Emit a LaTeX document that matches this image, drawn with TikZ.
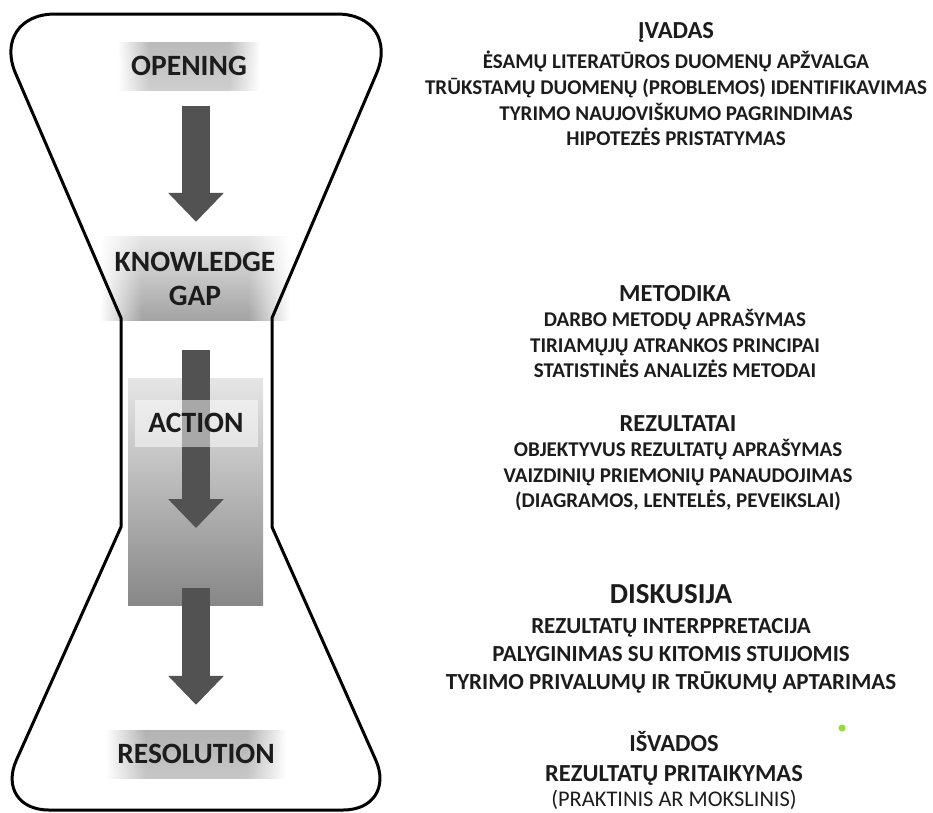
\documentclass[tikz,border=0pt]{standalone}
\usepackage{fontspec}
\setmainfont{Carlito}
\usetikzlibrary{positioning}
\usetikzlibrary{arrows.meta}
\usetikzlibrary{fadings}

\definecolor{arrowgray}{RGB}{82,82,82}
\definecolor{inkgray}{RGB}{28,28,28}
\definecolor{dotgreen}{RGB}{140,226,40}

\pgfdeclarehorizontalshading{sidefade}{100bp}{color(0bp)=(pgftransparent!100); color(25bp)=(pgftransparent!100); color(36bp)=(pgftransparent!0); color(64bp)=(pgftransparent!0); color(75bp)=(pgftransparent!100); color(100bp)=(pgftransparent!100)}
\tikzfading[name=fade sides, shading=sidefade]

\tikzset{
  flask/.style={draw=black, line width=3pt, line join=round},
  labelbox/.style={inner sep=0, text=inkgray, font=\fontsize{29.5}{34}\selectfont\bfseries, path fading=fade sides},
  bigarrow/.style={draw=arrowgray, line width=28pt, -{Triangle[width=54pt,length=29pt]}},
  head/.style={inner sep=0, anchor=base, text=inkgray, font=\fontsize{24.5}{28}\selectfont\bfseries, text height=16pt, text depth=7.3pt},
  sub/.style={inner sep=0, text=inkgray, font=\fontsize{21}{24}\selectfont\bfseries, text height=17.3pt, text depth=8pt},
  bighead/.style={inner sep=0, anchor=base, text=inkgray, font=\fontsize{29}{32}\selectfont\bfseries, text height=19pt, text depth=10.5pt},
  bigsub/.style={inner sep=0, text=inkgray, font=\fontsize{23}{26}\selectfont\bfseries, text height=19.5pt, text depth=8pt},
  note/.style={inner sep=0, text=inkgray, font=\fontsize{22.4}{26}\selectfont, text height=17pt, text depth=6pt}
}

\begin{document}
\begin{tikzpicture}[x=1pt, y=-1pt]
  \useasboundingbox (0,0) rectangle (933,812);

  % left column
  \node[labelbox, shade, top color=black!27, bottom color=black!19, minimum width=142, minimum height=48] (opening) at (189,66) {OPENING};
  \node[labelbox, shade, top color=black!10, bottom color=black!36, minimum width=190, minimum height=83, align=center] (gap) at (195,278.5) {KNOWLEDGE\\GAP};
  \shade[top color=black!10, bottom color=black!47] (128,378) rectangle (263,605);
  \coordinate (actiontop) at (196,378);
  \coordinate (actionbottom) at (196,605);
  \node[labelbox, shade, top color=black!30, bottom color=black!22, minimum width=180, minimum height=48] (resolution) at (196,754) {RESOLUTION};

  % flask outline
  \draw[flask] (55,14) -- (337,14) .. controls (372.8,14) and (390.5,40.9) .. (376.4,73.8)
    -- (272,318) -- (272,527) -- (375.6,759.7) .. controls (387.9,787.4) and (373.3,810) .. (343,810)
    -- (49,810) .. controls (18.8,810) and (4.1,787.4) .. (16.5,759.8)
    -- (121,527) -- (121,318) -- (15.7,73.7) .. controls (1.6,40.9) and (19.3,14) .. (55,14) -- cycle;

  \draw[bigarrow] ([yshift=-16pt]opening.south -| actiontop) -- ([yshift=15pt]gap.north -| actiontop);
  \draw[bigarrow] ([yshift=-30pt]gap.south -| actiontop) -- ([yshift=-150pt]actiontop);
  \draw[bigarrow] ([yshift=17pt]actionbottom) -- ([yshift=25pt]resolution.north);

  \node[labelbox, path fading=none, fill=white, fill opacity=0.5, text opacity=1, minimum width=123, minimum height=47] (action) at (196,423) {ACTION};

  % right column
  \node[head] (ivadas) at (676,38) {ĮVADAS};
  \node[sub, below=5.7pt of ivadas] (ivadas1) {ĖSAMŲ LITERATŪROS DUOMENŲ APŽVALGA};
  \node[sub, below=0pt of ivadas1] (ivadas2) {TRŪKSTAMŲ DUOMENŲ (PROBLEMOS) IDENTIFIKAVIMAS};
  \node[sub, below=0pt of ivadas2] (ivadas3) {TYRIMO NAUJOVIŠKUMO PAGRINDIMAS};
  \node[sub, below=0pt of ivadas3] (ivadas4) {HIPOTEZĖS PRISTATYMAS};

  \node[head] (metodika) at (675,301.5) {METODIKA};
  \node[sub, below=0pt of metodika] (metodika1) {DARBO METODŲ APRAŠYMAS};
  \node[sub, below=0pt of metodika1] (metodika2) {TIRIAMŲJŲ ATRANKOS PRINCIPAI};
  \node[sub, below=0pt of metodika2] (metodika3) {STATISTINĖS ANALIZĖS METODAI};

  \node[head] (rezultatai) at (678,431.5) {REZULTATAI};
  \node[sub, below=0pt of rezultatai] (rezultatai1) {OBJEKTYVUS REZULTATŲ APRAŠYMAS};
  \node[sub, below=0pt of rezultatai1] (rezultatai2) {VAIZDINIŲ PRIEMONIŲ PANAUDOJIMAS};
  \node[sub, below=0pt of rezultatai2] (rezultatai3) {(DIAGRAMOS, LENTELĖS, PEVEIKSLAI)};

  \node[bighead] (diskusija) at (671,603) {DISKUSIJA};
  \node[bigsub, below=0pt of diskusija] (diskusija1) {REZULTATŲ INTERPPRETACIJA};
  \node[bigsub, below=0pt of diskusija1] (diskusija2) {PALYGINIMAS SU KITOMIS STUIJOMIS};
  \node[bigsub, below=0pt of diskusija2] (diskusija3) {TYRIMO PRIVALUMŲ IR TRŪKUMŲ APTARIMAS};

  \node[head] (isvados) at (674,751.5) {IŠVADOS};
  \node[head, below=6.7pt of isvados] (isvados1) {REZULTATŲ PRITAIKYMAS};
  \node[note, below=0pt of isvados1] (isvados2) {(PRAKTINIS AR MOKSLINIS)};

  \fill[dotgreen] (842,728) circle (3.5);
\end{tikzpicture}
\end{document}
